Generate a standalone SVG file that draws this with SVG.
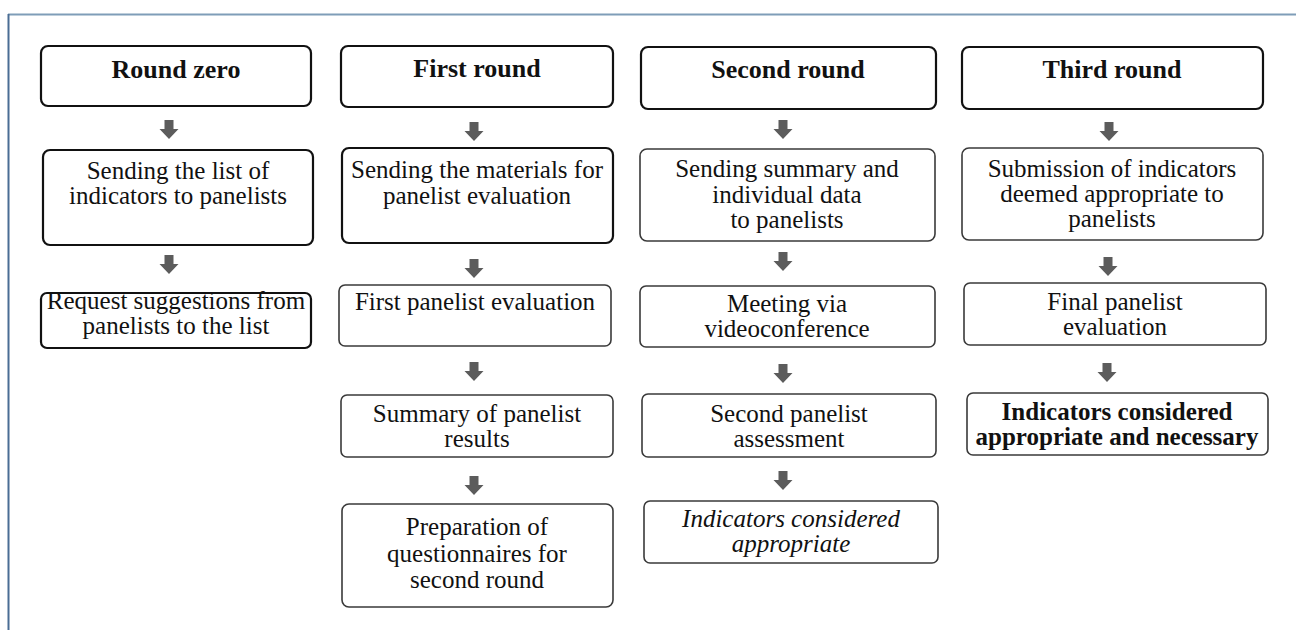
<svg xmlns="http://www.w3.org/2000/svg" width="1296" height="630" viewBox="0 0 1296 630">
<defs>
<style>
.bx{fill:#fff;stroke:#3a3a3a;stroke-width:1.6}
.bk{fill:#fff;stroke:#111;stroke-width:2.2}
.t{font-family:"Liberation Serif","Times New Roman",serif;font-size:25px;fill:#111;text-anchor:middle}
.h{font-weight:bold;font-size:26px}
.b{font-weight:bold}
.i{font-style:italic}
.ar{fill:#5c5c5c}
</style>
<path id="arw" d="M-4.5,0 H4.5 V9 H9.5 L0,19 L-9.5,9 H-4.5 Z"/>
</defs>
<rect width="1296" height="630" fill="#fff"/>
<line x1="8" y1="14.5" x2="1296" y2="14.5" stroke="#7f9db8" stroke-width="2"/>
<line x1="8.5" y1="14" x2="8.5" y2="630" stroke="#4a6d94" stroke-width="2"/>

<g id="connectors" class="ar">
<use href="#arw" x="169" y="120"/>
<use href="#arw" x="169" y="255"/>
<use href="#arw" x="474" y="122"/>
<use href="#arw" x="474" y="259"/>
<use href="#arw" x="474" y="362"/>
<use href="#arw" x="474" y="476"/>
<use href="#arw" x="783" y="120"/>
<use href="#arw" x="783" y="252"/>
<use href="#arw" x="783" y="364"/>
<use href="#arw" x="783" y="471"/>
<use href="#arw" x="1109" y="122"/>
<use href="#arw" x="1108" y="257"/>
<use href="#arw" x="1107" y="363"/>
</g>

<g id="round-zero">
<rect class="bk" x="41" y="46" width="270" height="60" rx="7"/>
<text class="t h" x="176" y="78">Round zero</text>
</g>
<g id="r0-send">
<rect class="bk" x="43" y="150" width="270" height="95" rx="7"/>
<text class="t" x="178" y="179">Sending the list of</text>
<text class="t" x="178" y="204">indicators to panelists</text>
</g>
<g id="r0-request">
<rect class="bk" x="41" y="293" width="270" height="55" rx="6"/>
<text class="t" x="176" y="309">Request suggestions from</text>
<text class="t" x="176" y="334">panelists to the list</text>
</g>

<g id="first-round">
<rect class="bk" x="341" y="46" width="272" height="61" rx="7"/>
<text class="t h" x="477" y="77">First round</text>
</g>
<g id="r1-send">
<rect class="bk" x="342" y="148" width="271" height="95" rx="7"/>
<text class="t" x="477" y="178">Sending the materials for</text>
<text class="t" x="477" y="204">panelist evaluation</text>
</g>
<g id="r1-eval">
<rect class="bx" x="339" y="285" width="272" height="61" rx="6"/>
<text class="t" x="475" y="310">First panelist evaluation</text>
</g>
<g id="r1-summary">
<rect class="bx" x="341" y="395" width="272" height="62" rx="6"/>
<text class="t" x="477" y="422">Summary of panelist</text>
<text class="t" x="477" y="447">results</text>
</g>
<g id="r1-prep">
<rect class="bx" x="342" y="504" width="271" height="103" rx="7"/>
<text class="t" x="477" y="535">Preparation of</text>
<text class="t" x="477" y="562">questionnaires for</text>
<text class="t" x="477" y="588">second round</text>
</g>

<g id="second-round">
<rect class="bk" x="641" y="47" width="295" height="62" rx="7"/>
<text class="t h" x="788" y="78">Second round</text>
</g>
<g id="r2-send">
<rect class="bx" x="640" y="149" width="295" height="92" rx="7"/>
<text class="t" x="787" y="177">Sending summary and</text>
<text class="t" x="787" y="203">individual data</text>
<text class="t" x="787" y="228">to panelists</text>
</g>
<g id="r2-meeting">
<rect class="bx" x="640" y="286" width="295" height="61" rx="6"/>
<text class="t" x="787" y="312">Meeting via</text>
<text class="t" x="787" y="337">videoconference</text>
</g>
<g id="r2-assess">
<rect class="bx" x="642" y="394" width="294" height="63" rx="6"/>
<text class="t" x="789" y="422">Second panelist</text>
<text class="t" x="789" y="447">assessment</text>
</g>
<g id="r2-result">
<rect class="bx" x="644" y="501" width="294" height="62" rx="6"/>
<text class="t i" x="791" y="527">Indicators considered</text>
<text class="t i" x="791" y="552">appropriate</text>
</g>

<g id="third-round">
<rect class="bk" x="962" y="47" width="301" height="62" rx="7"/>
<text class="t h" x="1112" y="78">Third round</text>
</g>
<g id="r3-submit">
<rect class="bx" x="962" y="148" width="301" height="92" rx="7"/>
<text class="t" x="1112" y="177">Submission of indicators</text>
<text class="t" x="1112" y="202">deemed appropriate to</text>
<text class="t" x="1112" y="227">panelists</text>
</g>
<g id="r3-eval">
<rect class="bx" x="964" y="283" width="302" height="62" rx="6"/>
<text class="t" x="1115" y="310">Final panelist</text>
<text class="t" x="1115" y="335">evaluation</text>
</g>
<g id="r3-result">
<rect class="bx" x="967" y="393" width="301" height="62" rx="6"/>
<text class="t b" x="1117" y="420">Indicators considered</text>
<text class="t b" x="1117" y="445">appropriate and necessary</text>
</g>
</svg>
